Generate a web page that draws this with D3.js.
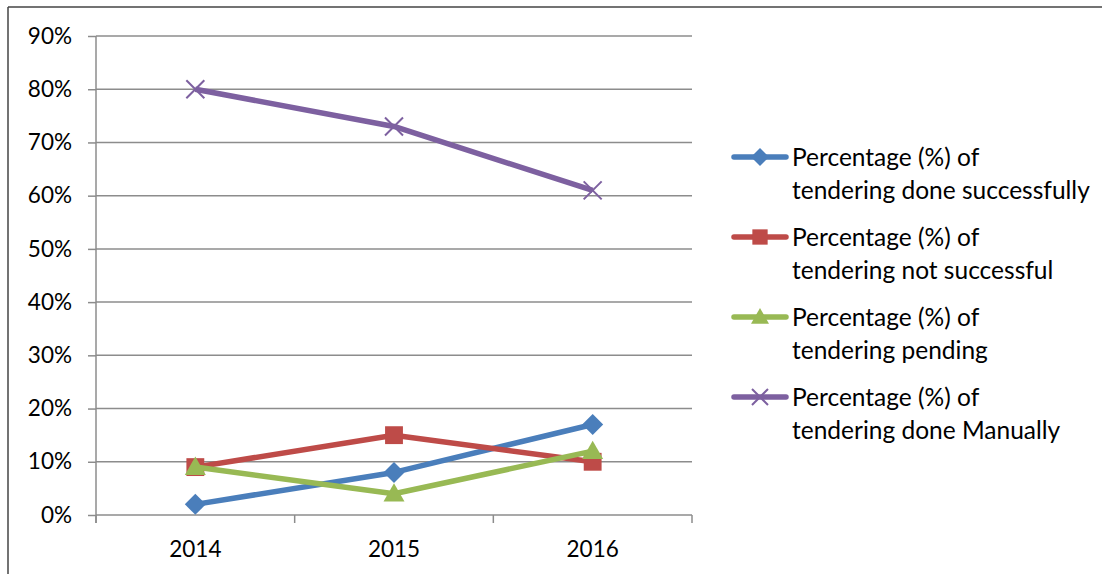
<!DOCTYPE html>
<html><head><meta charset="utf-8">
<script src="https://cdn.jsdelivr.net/npm/d3@7"></script>
<style>
html,body{margin:0;padding:0;background:#fff;}
svg{display:block;}
text{font-family:Lato, "Open Sans", sans-serif;fill:#000;}
</style></head>
<body>
<script>
const categories = ["2014", "2015", "2016"];
const seriesNames = [
  ["Percentage (%) of", "tendering done successfully"],
  ["Percentage (%) of", "tendering not successful"],
  ["Percentage (%) of", "tendering pending"],
  ["Percentage (%) of", "tendering done Manually"]
];
const successful = [0.02, 0.08, 0.17];
const notSuccessful = [0.09, 0.15, 0.10];
const pending = [0.09, 0.04, 0.12];
const manually = [0.80, 0.73, 0.61];
const yTicks = [0, 0.1, 0.2, 0.3, 0.4, 0.5, 0.6, 0.7, 0.8, 0.9];

const colors = ["#4a7ebb", "#be4b48", "#98b954", "#7d60a0"];
const markers = ["diamond", "square", "triangle", "x"];
const allSeries = [successful, notSuccessful, pending, manually];

(function () {
const W = 1102, H = 574;
const svg = d3.select("body").append("svg").attr("width", W).attr("height", H);

// frame
svg.append("line").attr("x1", 8).attr("x2", 8).attr("y1", 7).attr("y2", H).attr("stroke", "#444").attr("stroke-width", 1.5);
svg.append("line").attr("x1", 8).attr("x2", W).attr("y1", 7).attr("y2", 7).attr("stroke", "#444").attr("stroke-width", 1.5);

const pLeft = 96, pRight = 692, pTop = 36, pBottom = 515;
const x = d3.scaleBand().domain(categories).range([pLeft, pRight]);
const y = d3.scaleLinear().domain([0, 0.9]).range([pBottom, pTop]);

// gridlines
svg.append("g").selectAll("line").data(yTicks.slice(1)).join("line")
  .attr("x1", pLeft).attr("x2", pRight)
  .attr("y1", d => y(d)).attr("y2", d => y(d))
  .attr("stroke", "#8c8c8c").attr("stroke-width", 1.5);

// y axis
const yAxis = svg.append("g").attr("transform", `translate(${pLeft},0)`)
  .call(d3.axisLeft(y).tickValues(yTicks).tickFormat(d3.format(".0%")).tickSize(8).tickPadding(16));
yAxis.select(".domain").attr("stroke", "#8c8c8c").attr("stroke-width", 1.5).attr("d", `M0,${pTop}V${pBottom + 8}`);
yAxis.selectAll(".tick line").attr("stroke", "#8c8c8c").attr("stroke-width", 1.5);
yAxis.selectAll(".tick text").attr("font-size", 22.5).attr("fill", "#000").attr("font-family", "Lato, sans-serif");

// x axis
const xAxis = svg.append("g").attr("transform", `translate(0,${pBottom})`)
  .call(d3.axisBottom(x).tickSize(0).tickPadding(26));
xAxis.select(".domain").attr("stroke", "#8c8c8c").attr("stroke-width", 1.5).attr("d", `M${pLeft},0H${pRight}`);
xAxis.selectAll(".tick text").attr("font-size", 22.5).attr("fill", "#000").attr("font-family", "Lato, sans-serif");
const bounds = categories.map(c => x(c)).concat([x(categories[categories.length - 1]) + x.bandwidth()]);
xAxis.append("g").selectAll("line").data(bounds).join("line")
  .attr("x1", d => d).attr("x2", d => d).attr("y1", 0).attr("y2", 8)
  .attr("stroke", "#8c8c8c").attr("stroke-width", 1.5);

function drawMarker(g, type, color, cx, cy, s) {
  if (type === "diamond") {
    g.append("path").attr("d", `M${cx},${cy - s}L${cx + s},${cy}L${cx},${cy + s}L${cx - s},${cy}Z`).attr("fill", color);
  } else if (type === "square") {
    g.append("rect").attr("x", cx - s * 0.85).attr("y", cy - s * 0.85).attr("width", s * 1.7).attr("height", s * 1.7).attr("fill", color);
  } else if (type === "triangle") {
    g.append("path").attr("d", `M${cx},${cy - s}L${cx + s},${cy + s * 0.75}L${cx - s},${cy + s * 0.75}Z`).attr("fill", color);
  } else {
    g.append("path").attr("d", `M${cx - s},${cy - s}L${cx + s},${cy + s}M${cx - s},${cy + s}L${cx + s},${cy - s}`)
      .attr("stroke", color).attr("stroke-width", 2);
  }
}

const line = d3.line().x((d, i) => x(categories[i]) + x.bandwidth() / 2).y(d => y(d));
allSeries.forEach((vals, si) => {
  const g = svg.append("g");
  g.append("path").datum(vals).attr("d", line).attr("fill", "none")
    .attr("stroke", colors[si]).attr("stroke-width", 5.5).attr("stroke-linejoin", "round");
  vals.forEach((v, i) => drawMarker(g, markers[si], colors[si], x(categories[i]) + x.bandwidth() / 2, y(v), si === 3 ? 9 : 10.5));
});

// legend
const legY = [158, 238, 318, 398];
seriesNames.forEach((nm, si) => {
  const g = svg.append("g");
  const cy = legY[si] - 1;
  g.append("line").attr("x1", 734).attr("x2", 786).attr("y1", cy).attr("y2", cy)
    .attr("stroke", colors[si]).attr("stroke-width", 5.5).attr("stroke-linecap", "round");
  drawMarker(g, markers[si], colors[si], 760, cy, si === 3 ? 8 : 9);
  g.append("text").attr("x", 792).attr("y", legY[si] + 8).attr("font-size", 24.5).text(nm[0]);
  g.append("text").attr("x", 792).attr("y", legY[si] + 41).attr("font-size", 24.5).text(nm[1]);
});
})();
</script>
</body></html>
